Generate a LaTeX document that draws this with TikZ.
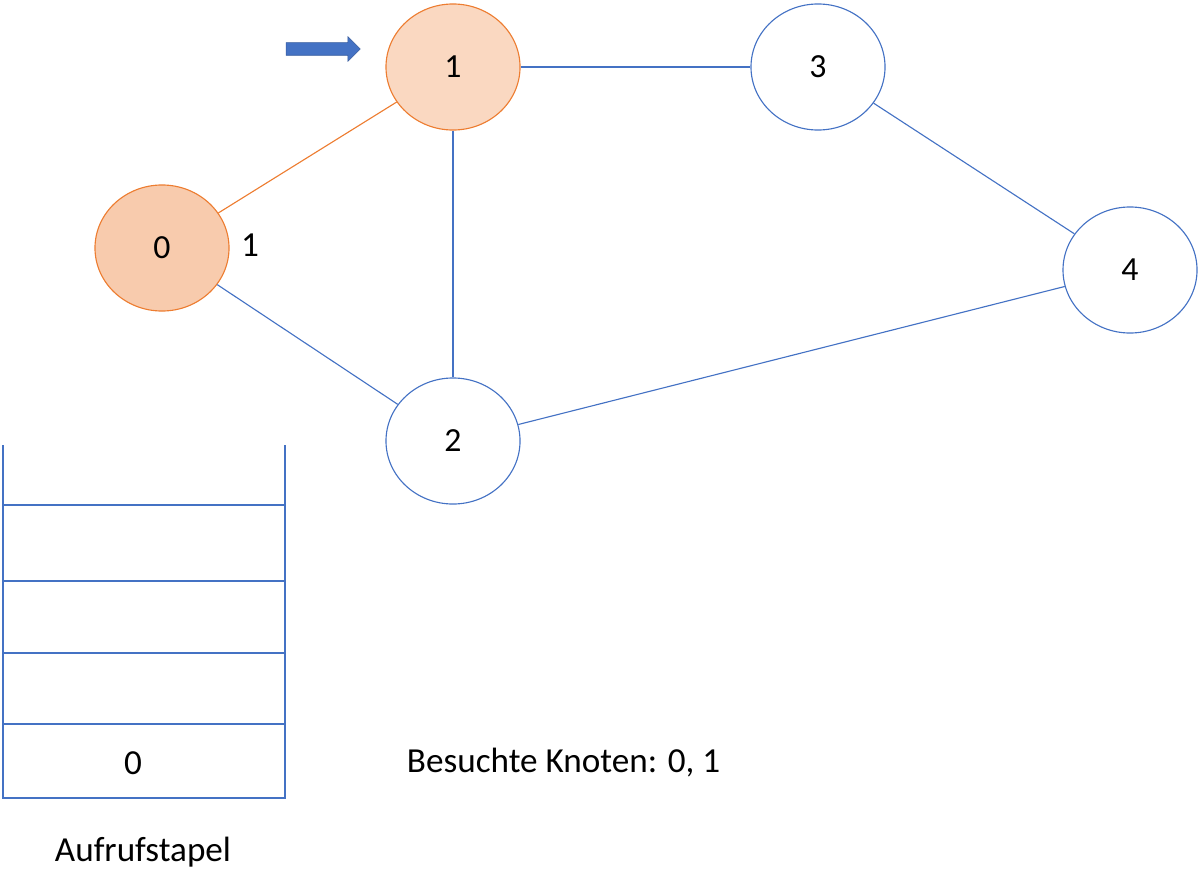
\documentclass[tikz,border=0pt]{standalone}
\usepackage{fontspec}
\setmainfont{Carlito}
\usetikzlibrary{shapes.geometric, shapes.arrows, positioning}
\definecolor{blau}{HTML}{4472C4}
\definecolor{orange}{HTML}{ED7D31}
\tikzset{
  knoten/.style={draw=blau, thick, ellipse, minimum width=3.35cm, minimum height=3.15cm, font=\fontsize{24}{28}\selectfont},
  besucht/.style={knoten, draw=orange, fill=orange!40},
  aktiv/.style={knoten, draw=orange, fill=orange!30},
  kante/.style={draw=blau, thick},
  beschriftung/.style={font=\fontsize{25}{29}\selectfont}
}
\begin{document}
\begin{tikzpicture}[x=0.025cm, y=-0.025cm]
            \useasboundingbox (0,0) rectangle (1200,893);
            \node[besucht] (K0) at (162,248) {0};
            \node[aktiv] (K1) at (453,67) {1};
            \node[knoten] (K2) at (453,441) {2};
            \node[knoten] (K3) at (818,67) {3};
            \node[knoten] (K4) at (1130,270) {4};
            \node[beschriftung] (L1) at (250,245) {1};
            
            \draw[thick, draw=orange](K0) -- (K1);
            \draw[kante](K0) -- (K2);
            \draw[kante](K1) -- (K2);
            \draw[kante](K1) -- (K3);
            \draw[kante](K3) -- (K4);
            \draw[kante](K2) -- (K4);
            
            % Pfeil zum aktuellen Knoten
            \node[single arrow, draw=blau!80!black, fill=blau, inner sep=0.15cm, minimum width=0.6cm, single arrow head extend=0.15cm, minimum height=1.85cm] (pfeil) at (320,49) {};
            
            % Aufrufstapel
            \draw[kante] (3,445) -- (3,798) -- (285,798) -- (285,445);
            \foreach \y in {505,581,653,724} \draw[kante] (3,\y) -- (285,\y);
            \node[beschriftung] (S0) at (133,763) {0};
            \node[beschriftung] (stapel) at (143,852) {Aufrufstapel};
            \node[beschriftung, anchor=west] (besuchte) at (402,763) {Besuchte Knoten: 0, 1};
            
\end{tikzpicture}
\end{document}
